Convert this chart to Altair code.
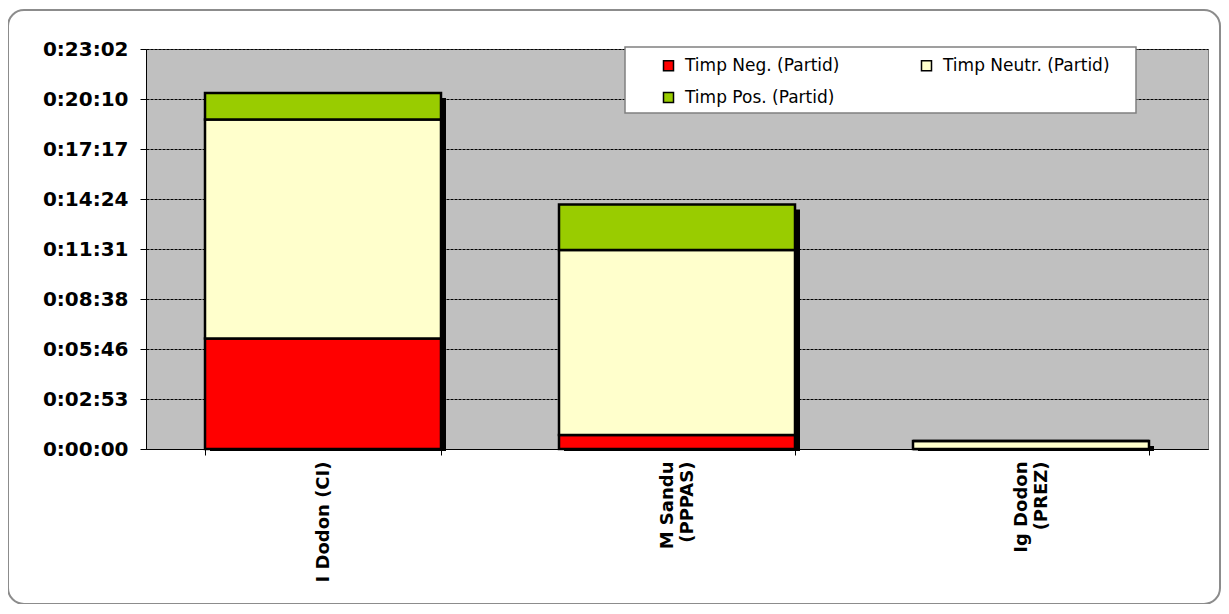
import altair as alt
import pandas as pd

categories = ["I Dodon (CI)", "M Sandu\n(PPPAS)", "Ig Dodon\n(PREZ)"]
series = ["Timp Neg. (Partid)", "Timp Neutr. (Partid)", "Timp Pos. (Partid)"]
neg_seconds = [382, 48, 0]
neu_seconds = [757, 640, 28]
pos_seconds = [91, 157, 0]
colors = ["#FF0000", "#FFFFCC", "#99CC00"]
y_ticks = [0, 172.8, 345.6, 518.4, 691.2, 864.0, 1036.8, 1209.6, 1382.4]

rows = []
for i, c in enumerate(categories):
    for j, (s, vals) in enumerate(zip(series, [neg_seconds, neu_seconds, pos_seconds])):
        rows.append({"category": c, "series": s, "seconds": vals[i], "ord": j})
df = pd.DataFrame(rows)
deco = pd.DataFrame({"k": [0]})

FONT = "DejaVu Sans"
yscale = alt.Scale(domain=[0, 1382.4], nice=False, zero=True)
xscale = alt.Scale(domain=categories, paddingInner=1 / 3, paddingOuter=1 / 6)

x_enc = alt.X(
    "category:N",
    sort=categories,
    scale=xscale,
    axis=alt.Axis(
        title=None, labelAngle=270, labelAlign="right",
        labelBaseline=alt.condition(
            "indexof(datum.value + '', '\\n') >= 0",
            alt.value("line-bottom"), alt.value("middle"),
        ),
        labelFont=FONT, labelFontWeight="bold", labelFontSize=18, labelColor="black",
        labelPadding=6, tickBand="extent", tickSize=6, tickColor="black",
        domainColor="black", labelExpr="split(datum.label, '\\n')", labelLimit=300,
    ),
)
y_axis = alt.Axis(
    title=None, values=y_ticks,
    labelExpr="'0:' + utcFormat(round(datum.value) * 1000, '%M:%S')",
    labelFont=FONT, labelFontWeight="bold", labelFontSize=20, labelColor="black",
    labelPadding=12, labelFlush=False, tickSize=6, tickColor="black", domainColor="black",
    grid=True, gridColor="black", gridDash=[3, 1], gridWidth=1, gridOpacity=1,
)

frame = alt.Chart(deco).mark_rect(
    fillOpacity=0, stroke="#8c8c8c", strokeWidth=2, cornerRadius=16
).encode(x=alt.value(-138), x2=alt.value(1074), y=alt.value(-39), y2=alt.value(555))

legend_box = alt.Chart(deco).mark_rect(
    fill="white", stroke="#808080", strokeWidth=1.5
).encode(x=alt.value(479), x2=alt.value(990), y=alt.value(-2), y2=alt.value(64))

shadow = alt.Chart(df).transform_aggregate(
    total="sum(seconds)", groupby=["category"]
).mark_bar(color="black", xOffset=5, yOffset=5, y2Offset=2).encode(
    x=x_enc,
    y=alt.Y("total:Q", scale=yscale, axis=y_axis),
    y2=alt.datum(0),
)

bars = alt.Chart(df).mark_bar(stroke="black", strokeWidth=2.5).encode(
    x=x_enc,
    y=alt.Y("seconds:Q", stack="zero", scale=yscale, axis=y_axis),
    color=alt.Color(
        "series:N",
        scale=alt.Scale(domain=series, range=colors),
        legend=alt.Legend(
            orient="none", legendX=514, legendY=8, title=None, columns=2,
            direction="horizontal",
            columnPadding=78, rowPadding=14, symbolType="square", symbolSize=100,
            symbolStrokeColor="black", symbolStrokeWidth=1.5, labelFont=FONT,
            labelFontSize=17, labelColor="black", labelOffset=8, padding=0,
            labelLimit=400,
        ),
    ),
    order=alt.Order("ord:Q"),
)

chart = alt.layer(frame, legend_box, shadow, bars).properties(
    width=1062, height=400,
    padding={"left": 138, "top": 41, "right": 13, "bottom": 155},
    autosize=alt.AutoSizeParams(type="none"),
    background="white",
).configure_view(fill="#C0C0C0", stroke="#808080", strokeWidth=1)

chart.save("out.html", embed_options={"renderer": "svg", "actions": False})
